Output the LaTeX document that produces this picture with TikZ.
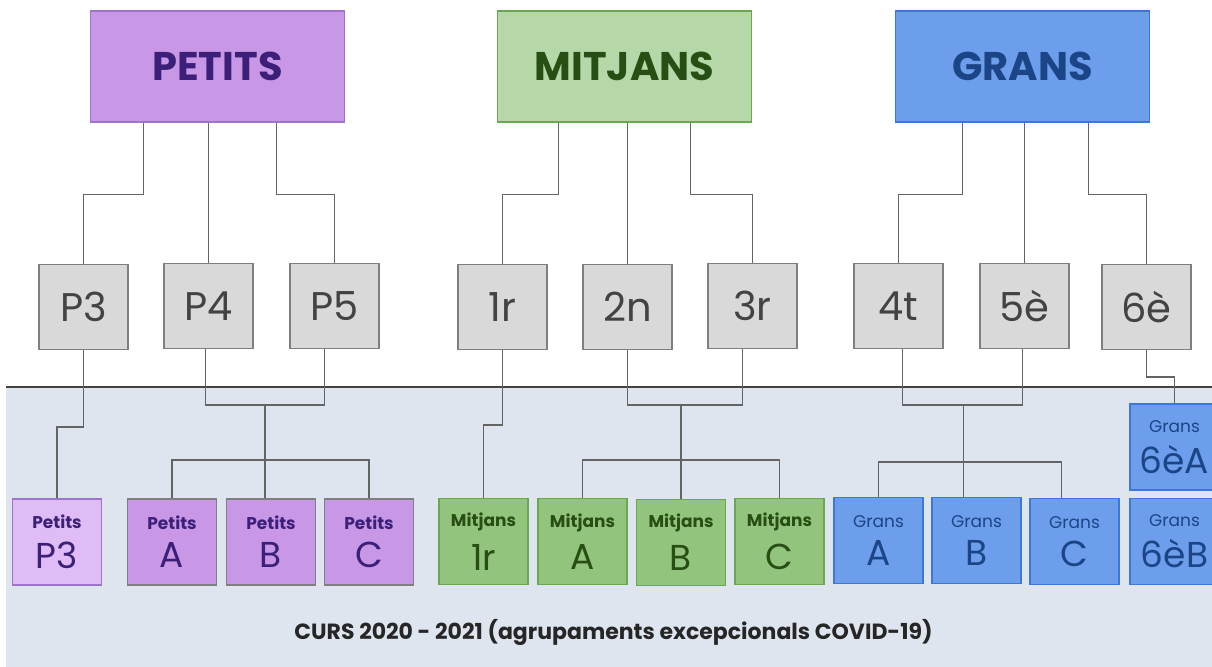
\documentclass[tikz,border=0pt]{standalone}
\usepackage{fontspec}
\setmainfont{Poppins}
\definecolor{petitsfill}{HTML}{C897E6}
\definecolor{petitsline}{HTML}{9C74CC}
\definecolor{petitstext}{HTML}{3B1F78}
\definecolor{petitslight}{HTML}{DFBCF5}
\definecolor{mitjansfill}{HTML}{B6D7A8}
\definecolor{mitjansdark}{HTML}{93C47D}
\definecolor{mitjansline}{HTML}{6AA84F}
\definecolor{mitjanstext}{HTML}{274E13}
\definecolor{gransfill}{HTML}{6D9EEB}
\definecolor{gransline}{HTML}{3C78D8}
\definecolor{granstext}{HTML}{1C4587}
\definecolor{greybox}{HTML}{D9D9D9}
\definecolor{greyline}{HTML}{7F7F7F}
\definecolor{greytext}{HTML}{434343}
\definecolor{linkgrey}{HTML}{646464}
\definecolor{bgblue}{HTML}{DFE5EF}

\begin{document}
\begin{tikzpicture}[x=0.5pt, y=-0.5pt,
  top/.style={draw, line width=0.6pt, minimum width=127pt, minimum height=55.5pt, font=\fontsize{20}{22}\selectfont\bfseries},
  year/.style={draw=greyline, line width=0.8pt, fill=greybox, text=greytext, minimum width=44.5pt, minimum height=42.5pt, font=\fontsize{20}{22}\selectfont},
  grp/.style={line width=0.8pt, minimum width=44.5pt, minimum height=43pt, align=center, inner sep=0pt},
  link/.style={draw=linkgrey, line width=0.85pt},
]
\useasboundingbox (0,0) rectangle (1212,667);
% zona dels grups
\fill[bgblue] (6,387) rectangle (1212,667);
\draw[link, draw=greytext] (6,387) -- (1212,387);

% cicles
\path (217.5,66.5) node[top, fill=petitsfill, draw=petitsline, text=petitstext] (petits) {PETITS};
\path (624.5,66.5) node[top, fill=mitjansfill, draw=mitjansline, text=mitjanstext] (mitjans) {MITJANS};
\path (1022.5,66.5) node[top, fill=gransfill, draw=gransline, text=granstext] (grans) {GRANS};

% cursos
\path (83.5,307) node[year] (p3) {P3};
\path (208.5,306) node[year] (p4) {P4};
\path (334.5,306) node[year] (p5) {P5};
\path (502.5,307) node[year] (c1) {1r};
\path (627.5,307) node[year] (c2) {2n};
\path (752.5,306) node[year] (c3) {3r};
\path (898.5,306) node[year] (c4) {4t};
\path (1024.5,306) node[year] (c5) {5è};
\path (1146.5,307) node[year] (c6) {6è};

% grups
\path (57,542) node[grp, fill=petitslight, draw=petitsline, text=petitstext] (pp3) {{\fontsize{8.5}{10}\selectfont\bfseries Petits}\\[5.5pt]{\fontsize{18}{20}\selectfont P3}};
\path (172,542) node[grp, fill=petitsfill, draw=greyline, text=petitstext] (pa) {{\fontsize{8.5}{10}\selectfont\bfseries Petits}\\[5.5pt]{\fontsize{18}{20}\selectfont A}};
\path (271,542) node[grp, fill=petitsfill, draw=greyline, text=petitstext] (pb) {{\fontsize{8.5}{10}\selectfont\bfseries Petits}\\[5.5pt]{\fontsize{18}{20}\selectfont B}};
\path (369,542) node[grp, fill=petitsfill, draw=greyline, text=petitstext] (pc) {{\fontsize{8.5}{10}\selectfont\bfseries Petits}\\[5.5pt]{\fontsize{18}{20}\selectfont C}};
\path (483.5,541.5) node[grp, fill=mitjansdark, draw=mitjansline, text=mitjanstext] (m1) {{\fontsize{8.5}{10}\selectfont\bfseries Mitjans}\\[5.5pt]{\fontsize{18}{20}\selectfont 1r}};
\path (582.5,541.5) node[grp, fill=mitjansdark, draw=mitjansline, text=mitjanstext] (ma) {{\fontsize{8.5}{10}\selectfont\bfseries Mitjans}\\[5.5pt]{\fontsize{18}{20}\selectfont A}};
\path (681,542.5) node[grp, fill=mitjansdark, draw=mitjansline, text=mitjanstext] (mb) {{\fontsize{8.5}{10}\selectfont\bfseries Mitjans}\\[5.5pt]{\fontsize{18}{20}\selectfont B}};
\path (779.5,541.5) node[grp, fill=mitjansdark, draw=mitjansline, text=mitjanstext] (mc) {{\fontsize{8.5}{10}\selectfont\bfseries Mitjans}\\[5.5pt]{\fontsize{18}{20}\selectfont C}};
\path (878.5,540.5) node[grp, fill=gransfill, draw=gransline, text=granstext] (ga) {{\fontsize{8.5}{10}\selectfont Grans}\\[5.5pt]{\fontsize{18}{20}\selectfont A}};
\path (976.5,540.5) node[grp, fill=gransfill, draw=gransline, text=granstext] (gb) {{\fontsize{8.5}{10}\selectfont Grans}\\[5.5pt]{\fontsize{18}{20}\selectfont B}};
\path (1074.5,541.5) node[grp, fill=gransfill, draw=gransline, text=granstext] (gc) {{\fontsize{8.5}{10}\selectfont Grans}\\[5.5pt]{\fontsize{18}{20}\selectfont C}};
\path (1174.5,447) node[grp, fill=gransfill, draw=gransline, text=granstext] (g6a) {{\fontsize{8.5}{10}\selectfont Grans}\\[5.5pt]{\fontsize{18}{20}\selectfont 6èA}};
\path (1174.5,541.5) node[grp, fill=gransfill, draw=gransline, text=granstext] (g6b) {{\fontsize{8.5}{10}\selectfont Grans}\\[5.5pt]{\fontsize{18}{20}\selectfont 6èB}};

% cicles -> cursos
\draw[link] ([xshift=-37pt]petits.south) -- ++(0,72) -| (p3.north);
\draw[link] (petits.south -| p4.north) -- (p4.north);
\draw[link] ([xshift=29.5pt]petits.south) -- ++(0,72) -| (p5.north);
\draw[link] ([xshift=-33pt]mitjans.south) -- ++(0,72) -| (c1.north);
\draw[link] (mitjans.south -| c2.north) -- (c2.north);
\draw[link] ([xshift=33pt]mitjans.south) -- ++(0,72) -| (c3.north);
\draw[link] ([xshift=-30pt]grans.south) -- ++(0,72) -| (c4.north);
\draw[link] (grans.south -| c5.north) -- (c5.north);
\draw[link] ([xshift=33pt]grans.south) -- ++(0,72) -| (c6.north);

% cursos -> grups
\draw[link] (p3.south) -- ++(0,77) -| (pp3.north);
\coordinate (pj) at ([xshift=-3pt]pb.north |- 0,405);
\coordinate (pk) at ([xshift=-3pt]pb.north |- 0,460);
\draw[link] ([xshift=-1.5pt]p4.south) |- (pj) -| ([xshift=-5pt]p5.south);
\draw[link] (pj) -- (pk);
\draw[link] (pk) -| (pa.north);
\draw[link] (pk) -| (pc.north);
\draw[link] (pk) -- ([xshift=-3pt]pb.north);

\draw[link] (c1.south) -- ++(0,75) -| (m1.north);
\coordinate (mj) at (mb.north |- 0,405);
\coordinate (mk) at (mb.north |- 0,460);
\draw[link] (c2.south) |- (mj) -| ([xshift=-5pt]c3.south);
\draw[link] (mj) -- (mk);
\draw[link] (mk) -| (ma.north);
\draw[link] (mk) -| (mc.north);
\draw[link] (mk) -- (mb.north);

\coordinate (gj) at ([xshift=-6.5pt]gb.north |- 0,405);
\coordinate (gk) at ([xshift=-6.5pt]gb.north |- 0,462);
\draw[link] ([xshift=2pt]c4.south) |- (gj) -| ([xshift=-1pt]c5.south);
\draw[link] (gj) -- (gk);
\draw[link] (gk) -| (ga.north);
\draw[link] (gk) -| ([xshift=-6.5pt]gc.north);
\draw[link] (gk) -- ([xshift=-6.5pt]gb.north);

\draw[link] (c6.south) -- ++(0,27) -| (g6a.north);

\path (613.5,632) node[font=\fontsize{11}{14}\selectfont\bfseries, text=black!85] (curs) {CURS 2020 - 2021 (agrupaments excepcionals COVID-19)};
\end{tikzpicture}
\end{document}
